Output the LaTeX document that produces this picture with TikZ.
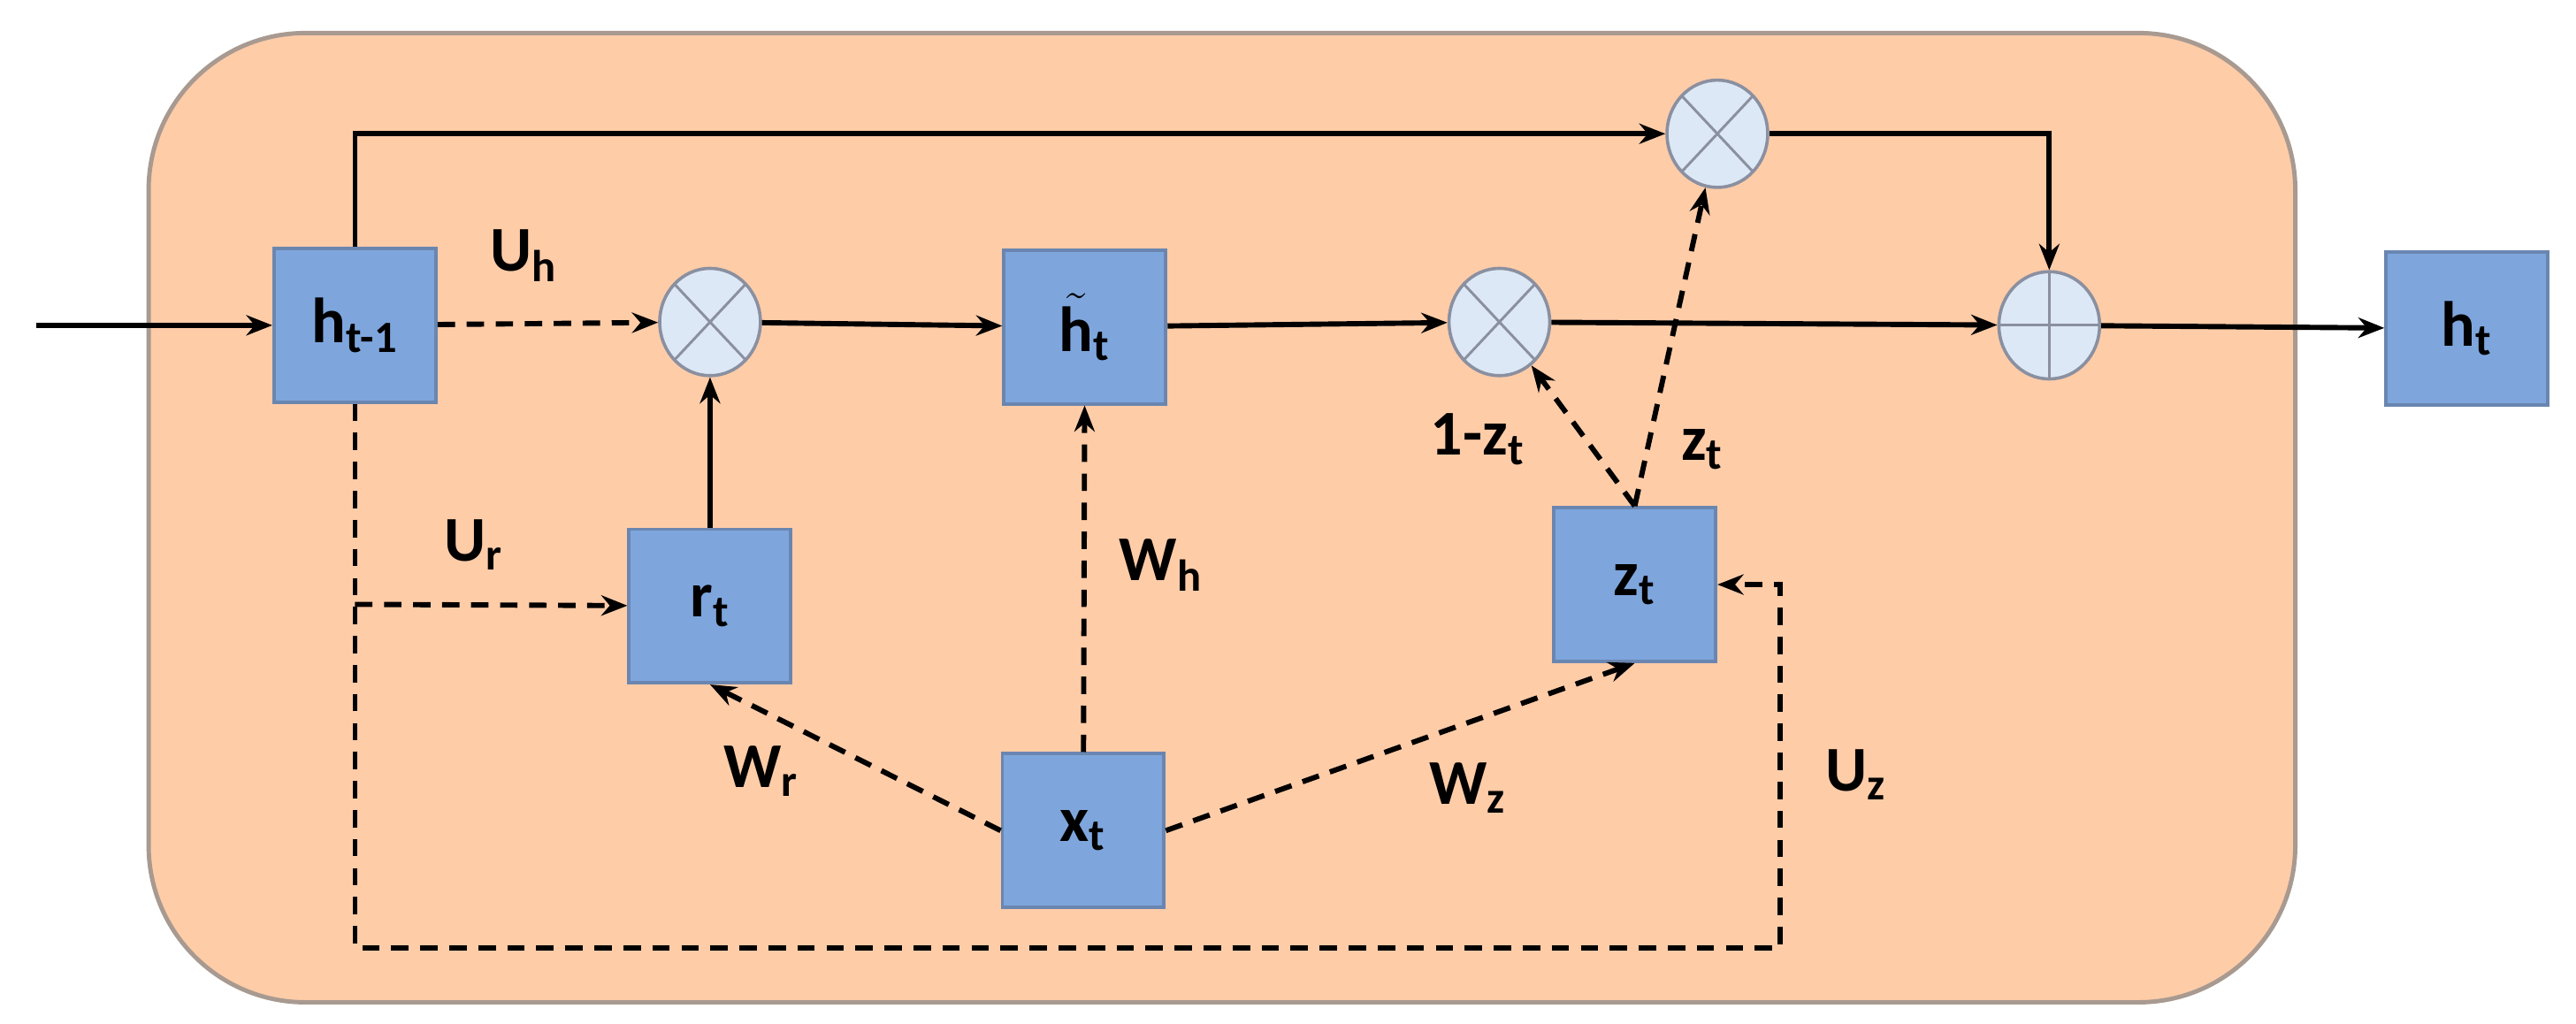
\documentclass[tikz,border=0pt]{standalone}
\usepackage{fontspec}
\setmainfont{Carlito}
\usetikzlibrary{arrows.meta,shapes.geometric}
\definecolor{bgc}{HTML}{FFCCA8}
\definecolor{bgb}{HTML}{A89A90}
\definecolor{boxc}{HTML}{7EA6DD}
\definecolor{boxb}{HTML}{6A86B0}
\definecolor{circc}{HTML}{DDE8F6}
\definecolor{circb}{HTML}{8A90A0}
\begin{document}
\begin{tikzpicture}[x=0.02cm,y=-0.02cm,
  box/.style={draw=boxb,fill=boxc,line width=1.2pt,minimum width=1.96cm,minimum height=1.86cm,inner sep=0pt,font=\bfseries\fontsize{22}{24}\selectfont},
  op/.style={draw=circb,fill=circc,line width=1.1pt,ellipse,minimum width=1.22cm,minimum height=1.3cm,inner sep=0pt},
  times/.style={op,path picture={\draw[circb,line width=0.9pt]
     (path picture bounding box.north west)--(path picture bounding box.south east)
     (path picture bounding box.north east)--(path picture bounding box.south west);}},
  plus/.style={op,path picture={\draw[circb,line width=0.9pt]
     (path picture bounding box.north)--(path picture bounding box.south)
     (path picture bounding box.west)--(path picture bounding box.east);}},
  con/.style={line width=1.8pt,-{Stealth[length=9pt,width=7pt]}},
  dcon/.style={con,dash pattern=on 6pt off 4pt},
  lab/.style={font=\bfseries\fontsize{22}{24}\selectfont}]
\useasboundingbox (0,0) rectangle (1560,620);
\draw[bgb,fill=bgc,line width=1.5pt,rounded corners=1.9cm] (90,20) rectangle (1390,607);

\node[box] (hp) at (215,197) {h\textsubscript{t-1}};
\node[box] (hc) at (657,198) {$\tilde{\mbox{h}}$\textsubscript{t}};
\node[box] (ht) at (1494,199) {h\textsubscript{t}};
\node[box] (rt) at (430,367) {r\textsubscript{t}};
\node[box] (xt) at (656,503) {x\textsubscript{t}};
\node[box] (zt) at (990,354) {z\textsubscript{t}};
\node[times] (m1) at (430,195) {};
\node[times] (m2) at (908,195) {};
\node[times] (m3) at (1040,81) {};
\node[plus] (pl) at (1241,197) {};

\coordinate (in) at (22,197);
\coordinate (tl) at (215,81);
\coordinate (tr) at (1241,81);
\coordinate (ur) at (215,366);
\coordinate (bl) at (215,574);
\coordinate (br) at (1078,574);
\coordinate (bz) at (1078,354);

\draw[con] (in) -- (hp);
\draw[dcon] (hp) -- (m1);
\draw[con] (m1) -- (hc);
\draw[con] (hc) -- (m2);
\draw[con] (m2) -- (pl);
\draw[con] (pl) -- (ht);
\draw[con] (hp.north) -- (tl) -- (m3);
\draw[con] (m3) -- (tr) -- (pl);
\draw[con] (rt) -- (m1);
\draw[dcon] (hp.south) -- (bl) -- (br) -- (bz) -- (zt);
\draw[dcon] (ur) -- (rt);
\draw[dcon] (xt.west) -- (rt.south);
\draw[dcon] (xt.east) -- (zt.south);
\draw[dcon] (xt) -- (hc);
\draw[dcon] (zt.north) -- (m2);
\draw[dcon] (zt.north) -- (m3);

\node[lab] (luh) at (317,155) {U\textsubscript{h}};
\node[lab] (lur) at (287,330) {U\textsubscript{r}};
\node[lab] (lwh) at (703,342) {W\textsubscript{h}};
\node[lab] (lwr) at (461,467) {W\textsubscript{r}};
\node[lab] (lwz) at (889,477) {W\textsubscript{z}};
\node[lab] (luz) at (1124,469) {U\textsubscript{z}};
\node[lab] (l1z) at (895,266) {1-z\textsubscript{t}};
\node[lab] (lz) at (1031,272) {z\textsubscript{t}};
\end{tikzpicture}
\end{document}
